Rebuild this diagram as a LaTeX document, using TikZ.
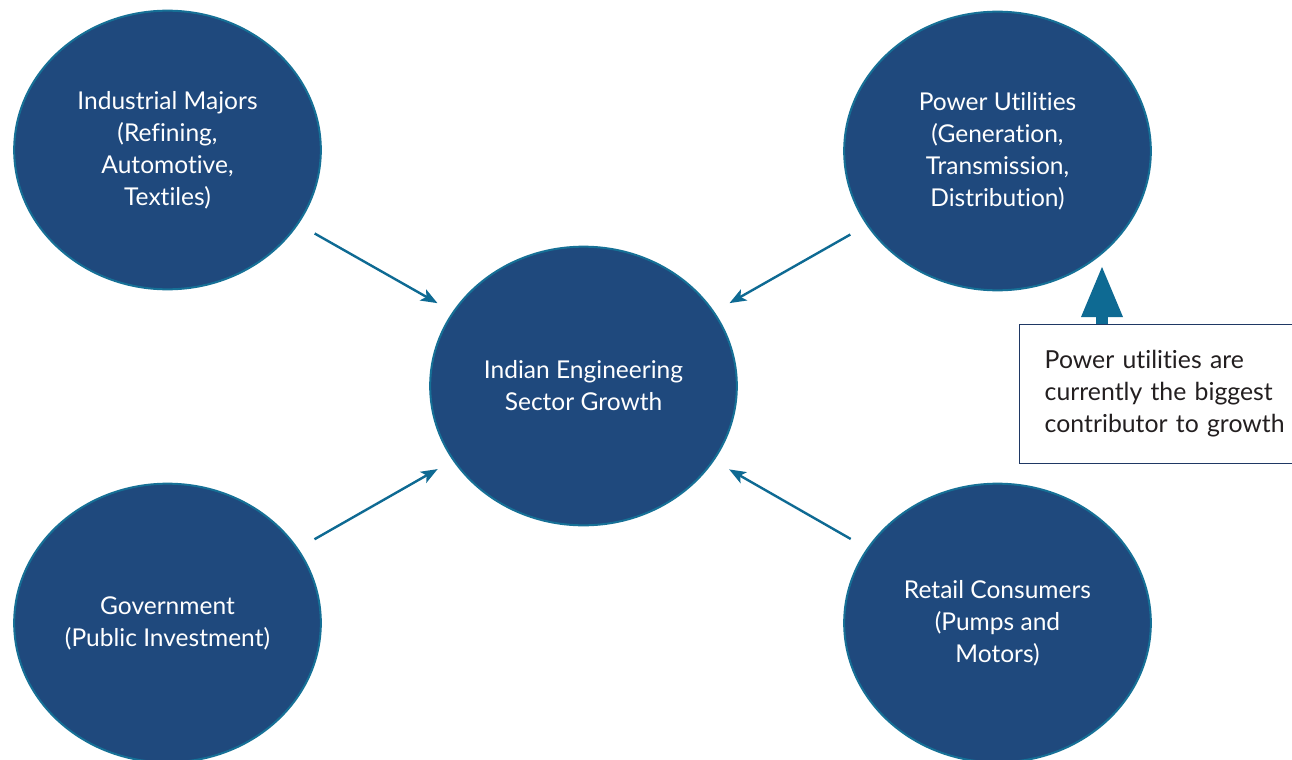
\documentclass[tikz,border=0pt]{standalone}
\usepackage{fontspec}
\setmainfont{Lato}[Ligatures=NoCommon]
\usetikzlibrary{shapes.geometric,arrows.meta}
\definecolor{navy}{RGB}{31,73,125}
\definecolor{rim}{RGB}{22,112,150}
\definecolor{flow}{RGB}{14,106,147}
\definecolor{boxline}{RGB}{31,56,100}
\definecolor{ink}{RGB}{35,31,32}
\begin{document}
\begin{tikzpicture}[x=0.75pt,y=-0.75pt,
  bubble/.style={ellipse, fill=navy, draw=rim, line width=1.5pt,
    minimum width=230pt, minimum height=209pt, inner sep=0pt,
    align=center, text=white, font=\fontsize{18.4}{24}\selectfont},
  feed/.style={draw=flow, line width=1.8pt,
    -{Stealth[length=12.5pt,width=9.5pt,inset=3pt]},
    shorten <=14pt, shorten >=13pt},
  note/.style={rectangle, draw=boxline, line width=1.1pt, fill=white,
    minimum height=104pt, text width=300pt, inner xsep=18.75pt,
    align=left, text=ink, font=\fontsize{18.6}{24}\selectfont},
  callout/.style={draw=flow, line width=9pt,
    -{Triangle[length=39pt,width=28.5pt]}}]

\useasboundingbox (0,0) rectangle (1292,760);
\clip (0,0) rectangle (1292,760);

% the five contributors and the sector they feed
\node[bubble] (im)   at (167.5,150) {Industrial Majors\\(Refining,\\Automotive,\\Textiles)};
\node[bubble] (pu)   at (997.5,151) {Power Utilities\\(Generation,\\Transmission,\\Distribution)};
\node[bubble] (core) at (583.5,386) {Indian Engineering\\Sector Growth};
\node[bubble] (gov)  at (167.5,623) {Government\\(Public Investment)};
\node[bubble] (rc)   at (997.5,623) {Retail Consumers\\(Pumps and\\Motors)};

% arrows into the centre
\draw[feed] (im)  -- (core);
\draw[feed] (pu)  -- (core);
\draw[feed] (gov) -- (core);
\draw[feed] (rc)  -- (core);

% remark box with its pointer up to the power utilities
\node[note, anchor=north west] (remark) at (1019,324)
  {Power utilities are\\currently the biggest\\contributor to growth};
\coordinate (cue) at (1102,265);
\draw[callout] (remark.north -| cue) -- (cue);
\end{tikzpicture}
\end{document}
